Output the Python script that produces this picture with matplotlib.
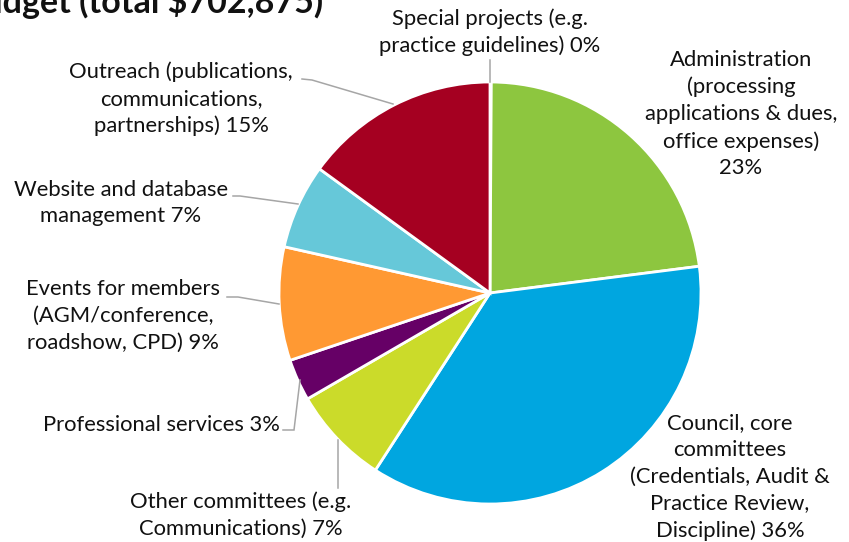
import matplotlib
matplotlib.use("Agg")
import matplotlib.pyplot as plt

# ---- data ----
categories = [
    "Special projects (e.g.\npractice guidelines) 0%",
    "Administration\n(processing\napplications & dues,\noffice expenses)\n23%",
    "Council, core\ncommittees\n(Credentials, Audit &\nPractice Review,\nDiscipline) 36%",
    "Other committees (e.g.\nCommunications) 7%",
    "Professional services 3%",
    "Events for members\n(AGM/conference,\nroadshow, CPD) 9%",
    "Website and database\nmanagement 7%",
    "Outreach (publications,\ncommunications,\npartnerships) 15%",
]
values = [0.1, 22.9, 36.2, 7.5, 3.2, 8.7, 6.5, 15.0]
colors = ["#A50021", "#8DC63F", "#00A6E0", "#CBDB2A", "#660066",
          "#FF9933", "#66C8D9", "#A50021"]
title = "Budget (total $702,875)"

W, H = 849, 542
fig = plt.figure(figsize=(W / 100, H / 100), dpi=100)
ax = fig.add_axes([0, 0, 1, 1])

cx, cy, r = 490, H - 293, 211
ax.pie(values, colors=colors, startangle=90, counterclock=False,
       center=(cx, cy), radius=r, frame=True,
       wedgeprops=dict(edgecolor="white", linewidth=2.0))
ax.set_xlim(0, W)
ax.set_ylim(0, H)
ax.set_aspect("equal")
ax.axis("off")

font = "Lato"
fs = 15.8
ls = 1.42

def Y(y):
    return H - y

# label positions (center x, center y in image px), alignment
label_pos = [
    (490, 32, "center"),
    (741, 114, "center"),
    (730, 477, "center"),
    (241, 515, "center"),
    (280, 425, "right"),
    (123, 316, "center"),
    (121, 203, "center"),
    (181, 99, "center"),
]
for text, (x, y, ha) in zip(categories, label_pos):
    ax.text(x, Y(y), text, ha=ha, va="center", multialignment="center",
            fontsize=fs, family=font, color="#111111", linespacing=ls)

# leader lines (image px)
lc = "#A6A6A6"
leaders = [
    [(490, 60), (490, 82)],
    [(302, 79), (312, 80), (393, 104)],
    [(233, 196), (240, 196), (298, 204)],
    [(227, 297), (238, 297), (279, 304)],
    [(283, 430), (294, 430), (300, 380)],
    [(338, 440), (338, 488)],
]
for pts in leaders:
    xs = [p[0] for p in pts]
    ys = [Y(p[1]) for p in pts]
    ax.plot(xs, ys, color=lc, linewidth=1.1, solid_joinstyle="miter")

ax.text(323, Y(13), title, ha="right", va="baseline", fontsize=24.5,
        family=font, fontweight="bold", color="#111111")

fig.savefig("out.png", dpi=100)
